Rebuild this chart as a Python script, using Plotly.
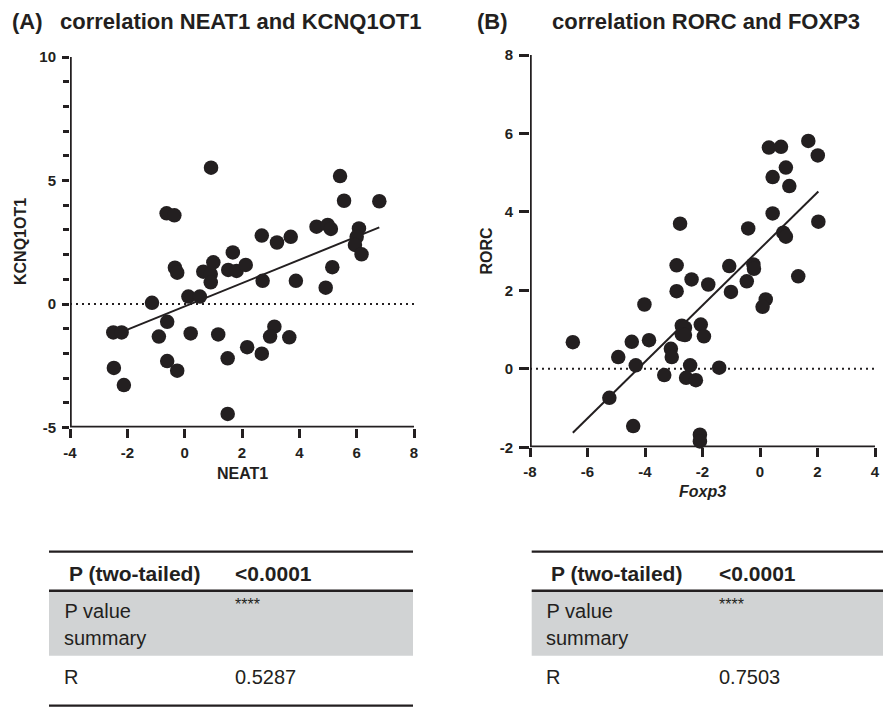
import plotly.graph_objects as go

# ---------------- data ----------------
neat1 = [0.92, 5.42, 5.56, 6.79, -0.63, -0.36, 4.60, 4.99, 5.10, 6.08,
         2.69, 3.22, 3.70, 6.00, 5.94, 6.17, -0.34, -0.26, 0.65, 0.91,
         0.91, 1.00, 1.68, 1.52, 1.81, 2.13, 2.72, 3.88, 5.15, 4.92,
         -1.14, 0.13, 0.53, -2.49, -2.20, -0.61, -0.90, 0.21, 1.17, 3.13,
         2.98, 3.65, 2.18, 2.69, 1.50, -0.61, -0.26, -2.47, -2.12, 1.50]
kcnq1ot1 = [5.52, 5.18, 4.18, 4.16, 3.67, 3.59, 3.13, 3.20, 3.04, 3.06,
            2.77, 2.49, 2.72, 2.72, 2.39, 2.01, 1.47, 1.27, 1.31, 1.21,
            0.88, 1.69, 2.09, 1.38, 1.34, 1.58, 0.94, 0.94, 1.49, 0.66,
            0.05, 0.30, 0.30, -1.15, -1.15, -0.72, -1.32, -1.19, -1.23, -0.92,
            -1.32, -1.35, -1.75, -2.01, -2.20, -2.31, -2.70, -2.59, -3.28, -4.45]
fitA_x = [-2.02, 6.79]
fitA_y = [-1.05, 3.10]

foxp3 = [0.31, 0.73, 1.68, 2.01, 0.90, 0.44, 1.02, 0.44, 2.03, -2.78,
         -0.41, 0.81, 0.90, -2.90, -1.07, -0.23, -0.21, 1.33, -2.38, -1.80,
         -0.46, -2.90, -1.01, -4.02, 0.20, 0.09, -2.72, -2.61, -2.06, -2.72,
         -2.61, -1.95, -6.51, -4.46, -3.86, -3.10, -4.93, -3.07, -4.32, -2.43,
         -1.42, -3.33, -2.57, -2.23, -5.24, -4.41, -2.09, -2.09]
rorc = [5.64, 5.66, 5.81, 5.44, 5.13, 4.89, 4.66, 3.96, 3.75, 3.70,
        3.58, 3.47, 3.37, 2.64, 2.62, 2.66, 2.55, 2.36, 2.28, 2.15,
        2.23, 1.98, 1.96, 1.64, 1.77, 1.58, 1.10, 1.05, 1.13, 0.88,
        0.86, 0.83, 0.68, 0.69, 0.73, 0.51, 0.30, 0.30, 0.09, 0.09,
        0.03, -0.16, -0.23, -0.29, -0.74, -1.46, -1.68, -1.85]
fitB_x = [-6.51, 2.03]
fitB_y = [-1.63, 4.52]

xticksA = [-4, -2, 0, 2, 4, 6, 8]
yticksA = [-5, 0, 5, 10]
yminorA = [-4, -3, -2, -1, 1, 2, 3, 4, 6, 7, 8, 9]
xticksB = [-8, -6, -4, -2, 0, 2, 4]
yticksB = [-2, 0, 2, 4, 6, 8]

titles = ["correlation NEAT1 and KCNQ1OT1", "correlation RORC and FOXP3"]
panel_labels = ["(A)", "(B)"]
axis_titles = ["NEAT1", "KCNQ1OT1", "Foxp3", "RORC"]
row_labels = ["P (two-tailed)", " P value", "summary", "R"]
valsA = ["<0.0001", "****", "0.5287"]
valsB = ["<0.0001", "****", "0.7503"]

# ---------------- figure ----------------
W, H = 883, 708
INK = "#231f20"
FONT = "Liberation Sans, Arial, sans-serif"


def px(x):
    return x / W


def py(y):
    return 1 - y / H


def lab(vals):
    return ["<b>%d</b>" % v for v in vals]


fig = go.Figure()

axisline = dict(color=INK, width=3.5)
marker = dict(size=14.5, color=INK, line=dict(width=0))
dotted = dict(color=INK, width=2, dash="2px,4px")


def panel(xs, ys, fx, fy, xt, yt, xa, ya):
    # axis lines along the range edges
    fig.add_trace(go.Scatter(x=[xt[0], xt[0], xt[-1]], y=[yt[-1], yt[0], yt[0]],
                             mode="lines", line=axisline, xaxis=xa, yaxis=ya,
                             showlegend=False, cliponaxis=False, hoverinfo="skip"))
    fig.add_trace(go.Scatter(x=[xt[0], xt[-1]], y=[0, 0], mode="lines", line=dotted,
                             xaxis=xa, yaxis=ya, showlegend=False, hoverinfo="skip"))
    fig.add_trace(go.Scatter(x=fx, y=fy, mode="lines", line=dict(color=INK, width=2),
                             xaxis=xa, yaxis=ya, showlegend=False))
    fig.add_trace(go.Scatter(x=xs, y=ys, mode="markers", marker=marker,
                             xaxis=xa, yaxis=ya, showlegend=False, cliponaxis=False))


panel(neat1, kcnq1ot1, fitA_x, fitA_y, xticksA, yticksA, "x", "y")
panel(foxp3, rorc, fitB_x, fitB_y, xticksB, yticksB, "x2", "y2")

tickfont = dict(family="Liberation Sans", size=15, color=INK)
common = dict(showgrid=False, zeroline=False, showline=False,
              ticks="outside", tickwidth=3, tickcolor=INK,
              tickfont=tickfont, automargin=False, fixedrange=True)

fig.update_layout(
    width=W, height=H, margin=dict(l=0, r=0, t=0, b=0),
    paper_bgcolor="white", plot_bgcolor="white",
    xaxis=dict(domain=[px(70), px(414)], range=[xticksA[0], xticksA[-1]],
               tickvals=xticksA, ticktext=lab(xticksA),
               ticklen=9, anchor="y", ticklabelstandoff=2, **common),
    yaxis=dict(domain=[py(427.5), py(57)], range=[yticksA[0], yticksA[-1]],
               tickvals=yticksA, ticktext=lab(yticksA),
               ticklen=7, anchor="x", ticklabelstandoff=3,
               minor=dict(tickvals=yminorA, ticklen=6, tickwidth=2.5, tickcolor=INK,
                          ticks="outside", showgrid=False),
               **common),
    xaxis2=dict(domain=[px(530), px(875)], range=[xticksB[0], xticksB[-1]],
                tickvals=xticksB, ticktext=lab(xticksB),
                ticklen=9, anchor="y2", ticklabelstandoff=2, **common),
    yaxis2=dict(domain=[py(447.3), py(55)], range=[yticksB[0], yticksB[-1]],
                tickvals=yticksB, ticktext=lab(yticksB),
                ticklen=10, anchor="x2", ticklabelstandoff=3, **common),
)

ann = []


def text(x, y, s, size, bold=False, italic=False, angle=0, xanchor="left"):
    if bold:
        s = "<b>%s</b>" % s
    if italic:
        s = "<i>%s</i>" % s
    ann.append(dict(x=px(x), y=py(y), xref="paper", yref="paper", text=s,
                    showarrow=False, xanchor=xanchor, yanchor="middle", textangle=angle,
                    font=dict(family=FONT, size=size, color=INK)))


# titles
text(10, 21.7, panel_labels[0], 22, bold=True)
text(58, 21.7, titles[0], 22, bold=True)
text(475, 21.7, panel_labels[1], 22, bold=True)
text(550, 21.7, titles[1], 22, bold=True)

# axis titles
text(242, 473, axis_titles[0], 16, bold=True, xanchor="center")
text(20, 242, axis_titles[1], 16, bold=True, angle=-90, xanchor="center")
text(702, 491, axis_titles[2], 16, bold=True, italic=True, xanchor="center")
text(485.5, 251, axis_titles[3], 16, bold=True, angle=-90, xanchor="center")

shapes = []


def hline(x0, x1, y, w):
    shapes.append(dict(type="line", xref="paper", yref="paper", x0=px(x0), x1=px(x1),
                       y0=py(y), y1=py(y), line=dict(color=INK, width=w)))


def table(x0, x1, cx, vx, vals, bottom):
    shapes.append(dict(type="rect", xref="paper", yref="paper", x0=px(x0), x1=px(x1),
                       y0=py(655.7), y1=py(591.5), fillcolor="#d1d3d4",
                       line=dict(width=0), layer="below"))
    hline(x0, x1, 551.7, 2.2)
    hline(x0, x1, 590.7, 2.6)
    if bottom:
        hline(x0, x1, 705.7, 2.2)
    text(cx + 5, 573, row_labels[0], 21, bold=True)
    text(vx, 573, vals[0], 21, bold=True)
    text(cx - 5, 611, row_labels[1], 20)
    text(cx, 638, row_labels[2], 20)
    text(vx, 604, vals[1], 16)
    text(cx, 676.7, row_labels[3], 20)
    text(vx, 676.7, vals[2], 20)


table(49, 413, 61.7, 233.3, valsA, True)
table(531.7, 883, 544, 716.7, valsB, False)

fig.update_layout(annotations=ann, shapes=shapes)
fig.write_html("out.html")
